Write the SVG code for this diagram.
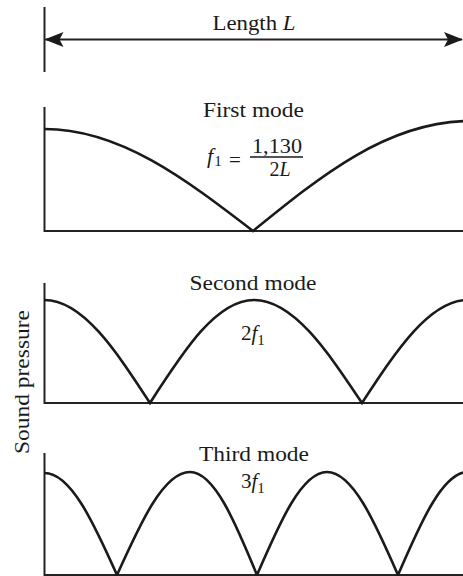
<svg xmlns="http://www.w3.org/2000/svg" width="463" height="576" viewBox="0 0 463 576">
  <style>
    .t { font-family: "Liberation Serif", "Times New Roman", serif; font-size: 22px; fill: #1a1a1a; }
    .m { font-family: "Liberation Serif", "Times New Roman", serif; fill: #1a1a1a; }
    .it { font-style: italic; }
    .ax { stroke: #222; stroke-width: 2; fill: none; }
    .cv { stroke: #1a1a1a; stroke-width: 2.6; fill: none; stroke-linejoin: miter; }
    .ar { stroke: #222; stroke-width: 2; fill: none; }
  </style>
  <defs>
    <marker id="ah" viewBox="0 0 19 15" refX="18" refY="7.5" markerWidth="19" markerHeight="15" markerUnits="userSpaceOnUse" orient="auto-start-reverse">
      <path d="M0,0 L19,7.5 L0,15 L4,7.5 Z" fill="#1a1a1a"/>
    </marker>
  </defs>
  <rect width="463" height="576" fill="#fff"/>

  <g id="connectors">
    <line class="ax" x1="44.5" y1="7" x2="44.5" y2="72"/>
    <line class="ar" x1="45.5" y1="39.5" x2="462" y2="39.5" marker-start="url(#ah)" marker-end="url(#ah)"/>
  </g>

  <g id="length-label">
    <text class="t" x="254" y="30" text-anchor="middle" textLength="83" lengthAdjust="spacingAndGlyphs">Length <tspan class="it">L</tspan></text>
  </g>

  <g id="mode1">
    <path class="ax" d="M44.5,107 V231 H463"/>
    <path class="cv" d="M44.5,129 C120,129 185,178.8 253,231 C321,175.7 386,123 466,121"/>
    <text class="t" x="253.5" y="117" text-anchor="middle" textLength="101" lengthAdjust="spacingAndGlyphs">First mode</text>
    <text class="m" x="207" y="163" font-size="22"><tspan class="it">f</tspan><tspan font-size="15" dy="3" dx="1">1</tspan></text>
    <text class="m" x="235" y="167" font-size="21" text-anchor="middle">=</text>
    <text class="m" x="277" y="153" font-size="20" text-anchor="middle" textLength="50" lengthAdjust="spacingAndGlyphs">1,130</text>
    <line x1="250" y1="157" x2="303" y2="157" stroke="#1a1a1a" stroke-width="1.4"/>
    <text class="m" x="280" y="176" font-size="20" text-anchor="middle">2<tspan class="it">L</tspan></text>
  </g>

  <g id="mode2">
    <path class="ax" d="M44.5,283 V403 H463"/>
    <path class="cv" d="M44.5,300 C82.7,300 115.6,350.3 150,403 C183.9,350.3 216.4,300 254,300 C293.1,300 326.8,350.3 362,403 C396.6,350.3 429.6,300 468,300"/>
    <text class="t" x="253" y="290" text-anchor="middle" textLength="127" lengthAdjust="spacingAndGlyphs">Second mode</text>
    <text class="m" x="241" y="340" font-size="21">2<tspan class="it">f</tspan><tspan font-size="15" dy="5">1</tspan></text>
  </g>

  <g id="mode3">
    <path class="ax" d="M44.5,453 V575 H463"/>
    <path class="cv" d="M44.5,473 C70.7,473 93.4,522.3 117,575 C140.8,522.3 163.6,472 190,472 C214.3,472 235.2,522.3 257,575 C279.8,522.3 301.7,472 327,472 C352.7,472 374.9,522.3 398,575 C420.8,522.3 442.7,472 468,472"/>
    <text class="t" x="254" y="461" text-anchor="middle" textLength="110" lengthAdjust="spacingAndGlyphs">Third mode</text>
    <text class="m" x="241" y="488" font-size="21">3<tspan class="it">f</tspan><tspan font-size="15" dy="5">1</tspan></text>
  </g>

  <g id="ylabel">
    <text class="t" transform="translate(29,382) rotate(-90)" x="0" y="0" text-anchor="middle" textLength="144" lengthAdjust="spacingAndGlyphs">Sound pressure</text>
  </g>
</svg>
